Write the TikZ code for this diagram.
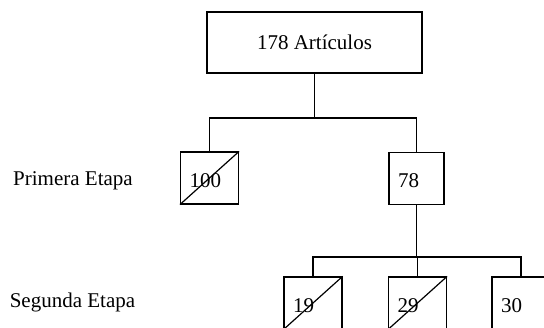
\documentclass[tikz,border=0pt]{standalone}
\usepackage{fontspec}
\setmainfont{Liberation Serif}
\begin{document}
\begin{tikzpicture}[x=1pt,y=-1pt,
  every node/.style={font=\fontsize{21}{25}\selectfont},
  ln/.style={line width=1.2pt},
  topbox/.style={draw,ln,minimum width=215pt,minimum height=61pt,inner sep=0pt},
  numbox/.style={draw,ln,minimum width=58pt,minimum height=52pt,inner xsep=9pt,inner ysep=0pt,text width=40pt,align=left,text height=18pt,text depth=0pt},
  lab/.style={inner sep=0pt}]
\useasboundingbox (0,0) rectangle (544,327);
\clip (0,0) rectangle (544,327);
\fill[white] (0,0) rectangle (544,327);
\node[topbox] (top) at (314.5,42.5) {178 Artículos};
\node[numbox] (n100) at (209.5,178) {100};
\node[numbox,minimum width=55pt,text width=37pt] (n78) at (416.5,178.5) {78};
\node[numbox] (n19) at (313,303) {19};
\node[numbox] (n29) at (417.5,303) {29};
\node[numbox] (n30) at (521,303) {30};
\node[lab] (p1) at (73,181) {Primera Etapa};
\node[lab] (p2) at (72.5,302) {Segunda Etapa};
\coordinate (j1) at (314.5,118);
\coordinate (j2) at (416.5,257);
\draw[ln] (top.south) -- (j1);
\draw[ln] (j1) -| (n100.north);
\draw[ln] (j1) -| (n78.north);
\draw[ln] (n78.south) -- (j2);
\draw[ln] (j2) -| (n19.north);
\draw[ln] (j2) -| (n29.north);
\draw[ln] (j2) -| (n30.north);
\draw[ln] (n100.south west) -- (n100.north east);
\draw[ln] (n19.south west) -- (n19.north east);
\draw[ln] (n29.south west) -- (n29.north east);
\end{tikzpicture}
\end{document}
